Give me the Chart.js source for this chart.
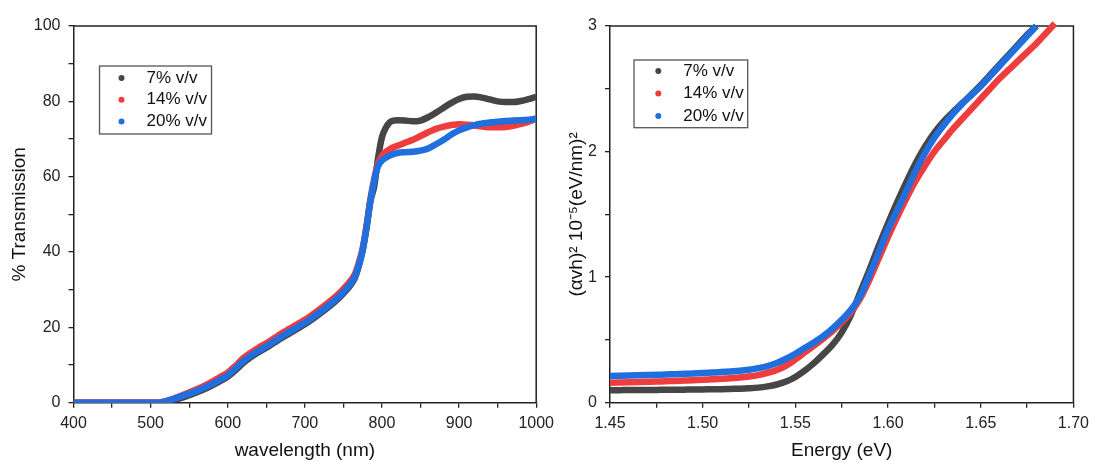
<!DOCTYPE html>
<html>
<head>
<meta charset="utf-8">
<script src="https://cdn.jsdelivr.net/npm/chart.js@4.4.0/dist/chart.umd.min.js"></script>
<style>
  body { margin: 0; background: #fff; }
  #left { position: absolute; left: 0; top: 0; }
  #right { position: absolute; left: 560px; top: 0; }
</style>
</head>
<body>
<canvas id="left" width="560" height="462"></canvas>
<canvas id="right" width="535" height="462"></canvas>
<script>
/* datos del grafico de transmision */
const wavelength = [400,410,420,430,440,450,460,470,480,490,500,510,520,530,540,550,560,570,580,590,
    600,610,620,630,640,650,660,670,680,690,700,710,720,730,740,750,760,
    765,770,775,780,785,790,795,800,805,810,815,820,
    830,840,850,860,870,880,890,900,910,920,930,940,950,960,970,980,990,1000]

const trans7 = [0,0,0,0,0,0,0,0,0,0,0,0,0.2,0.7,1.3,2.0,2.8,3.6,4.6,5.7,
    6.9,8.6,10.5,12.1,13.4,14.6,15.9,17.2,18.4,19.6,20.8,22.2,23.7,25.3,27.0,29.0,31.4,
    33.2,36.3,40.5,46.5,53.5,57.5,65.0,70.5,73.0,74.4,74.9,75.0,
    74.9,74.7,74.9,75.8,77.0,78.3,79.6,80.6,81.2,81.3,81.0,80.5,80.0,79.8,79.8,80.1,80.6,81.2]

const trans14 = [0,0,0,0,0,0,0,0,0,0,0,0,0.4,1.1,1.9,2.7,3.6,4.5,5.6,6.8,
    8.0,9.8,11.8,13.3,14.6,15.8,17.1,18.4,19.6,20.8,22.0,23.4,24.9,26.5,28.2,30.2,32.6,
    34.2,37.2,41.0,47.0,54.0,59.5,63.5,65.5,66.6,67.3,67.8,68.2,
    69.0,69.8,70.8,71.8,72.7,73.3,73.7,73.9,73.8,73.6,73.3,73.1,73.1,73.2,73.5,74.0,74.6,75.5]

const trans20 = [0,0,0,0,0,0,0,0,0,0,0,0,0.4,1.0,1.7,2.4,3.2,4.0,5.0,6.1,
    7.3,9.1,11.0,12.5,13.8,15.0,16.3,17.6,18.8,20.0,21.2,22.6,24.1,25.7,27.4,29.4,31.8,
    33.6,36.5,40.5,46.5,53.5,59.0,62.8,64.3,65.0,65.6,66.0,66.3,
    66.5,66.6,66.9,67.5,68.6,69.8,71.2,72.3,73.1,73.7,74.1,74.4,74.6,74.8,74.9,75.0,75.1,75.3]

/* datos del grafico de energia */
const energy = [1.450,1.455,1.460,1.465,1.470,1.475,1.480,1.485,1.490,1.495,
    1.500,1.505,1.510,1.515,1.520,1.525,1.530,1.535,1.540,1.545,
    1.550,1.555,1.560,1.565,1.570,1.575,1.580,1.585,1.590,1.595,
    1.600,1.605,1.610,1.615,1.620,1.625,1.630,1.635,1.640,1.645,
    1.650,1.655,1.660,1.665,1.670,1.675,1.680,1.685,1.690]

const tauc7 = [0.100,0.100,0.101,0.101,0.102,0.102,0.103,0.103,0.104,0.105,
    0.106,0.107,0.108,0.110,0.112,0.115,0.120,0.130,0.145,0.168,
    0.205,0.255,0.315,0.385,0.46,0.56,0.70,0.88,1.06,1.25,
    1.43,1.60,1.76,1.91,2.04,2.15,2.24,2.315,2.385,2.455,
    2.53,2.61,2.69,2.77,2.85,2.93,3.00]

const tauc14 = [0.158,0.160,0.162,0.164,0.166,0.168,0.171,0.173,0.176,0.179,
    0.182,0.186,0.190,0.195,0.200,0.208,0.220,0.237,0.260,0.295,
    0.345,0.400,0.455,0.51,0.57,0.64,0.72,0.83,0.98,1.15,
    1.32,1.48,1.63,1.77,1.89,2.00,2.09,2.18,2.26,2.34,
    2.42,2.50,2.58,2.65,2.72,2.79,2.86,2.94,3.02]

const tauc20 = [0.212,0.214,0.216,0.218,0.220,0.222,0.225,0.227,0.230,0.233,
    0.236,0.240,0.244,0.249,0.255,0.262,0.275,0.292,0.316,0.350,
    0.390,0.435,0.48,0.53,0.59,0.66,0.74,0.85,1.02,1.20,
    1.38,1.535,1.69,1.85,1.99,2.11,2.21,2.30,2.38,2.45,
    2.52,2.60,2.68,2.76,2.84,2.92,3.00]

const seriesLabels = ["7% v/v", "14% v/v", "20% v/v"]
const seriesColors = ["#464646", "#ef3d3d", "#1f6fdf"]

const xTicksLeft = [400, 500, 600, 700, 800, 900, 1000]
const yTicksLeft = [0, 20, 40, 60, 80, 100]
const xTicksRight = ["1.45", "1.50", "1.55", "1.60", "1.65", "1.70"]
const yTicksRight = [0, 1, 2, 3]

Chart.defaults.font.family = "'Liberation Sans', Arial, sans-serif"
Chart.defaults.color = "#222"

const pairs = (xs, ys) => ys.map((y, i) => ({ x: xs[i], y: y }))

/* marco arriba y derecha */
const framePlugin = {
    id: "frame",
    beforeDatasetsDraw(chart) {
        const a = chart.chartArea
        const ctx = chart.ctx
        ctx.save()
        ctx.strokeStyle = "#222"
        ctx.lineWidth = 1.5
        ctx.beginPath()
        ctx.moveTo(a.left, a.top)
        ctx.lineTo(a.right, a.top)
        ctx.lineTo(a.right, a.bottom)
        ctx.stroke()
        ctx.restore()
    }
}

/* leyenda con caja */
const boxLegend = {
    id: "boxLegend",
    afterDraw(chart, args, opts) {
        const ctx = chart.ctx
        ctx.save()
        ctx.fillStyle = "#fff"
        ctx.fillRect(opts.x, opts.y, opts.w, opts.h)
        ctx.strokeStyle = "#555"
        ctx.lineWidth = 1.3
        ctx.strokeRect(opts.x, opts.y, opts.w, opts.h)
        ctx.font = "17px 'Liberation Sans', Arial, sans-serif"
        ctx.textBaseline = "middle"
        seriesLabels.forEach((lab, i) => {
            const cy = opts.y + opts.row0 + i * opts.gap
            ctx.fillStyle = seriesColors[i]
            ctx.beginPath()
            ctx.arc(opts.x + opts.dot, cy, 3, 0, Math.PI * 2)
            ctx.fill()
            ctx.fillStyle = "#111"
            ctx.fillText(lab, opts.x + opts.text, cy)
        })
        ctx.restore()
    }
}

const makeDataset = (i, data, width) => ({
    label: seriesLabels[i],
    data: data,
    borderColor: seriesColors[i],
    backgroundColor: seriesColors[i],
    borderWidth: width,
    pointRadius: 0,
    showLine: true,
    cubicInterpolationMode: "monotone",
    order: 3 - i,
})

const axisCommon = {
    grid: { drawOnChartArea: false, tickLength: 5, color: "#222", lineWidth: 1.3 },
    border: { color: "#222", width: 1.5 },
}

/* grafico de transmision */
const leftChart = new Chart(document.querySelector("#left").getContext("2d"), {
    type: "scatter",
    data: {
        datasets: [
            makeDataset(0, pairs(wavelength, trans7), 6.5),
            makeDataset(1, pairs(wavelength, trans14), 6.5),
            makeDataset(2, pairs(wavelength, trans20), 6.5),
        ]
    },
    options: {
        responsive: false,
        animation: false,
        layout: { padding: { top: 26, right: 18, left: 0, bottom: 0 } },
        plugins: {
            legend: { display: false },
            tooltip: { enabled: false },
            boxLegend: { x: 99.5, y: 66, w: 112, h: 68, dot: 22, text: 47, row0: 12, gap: 21.7 },
        },
        scales: {
            x: {
                ...axisCommon,
                type: "linear", min: 400, max: 1000,
                ticks: { stepSize: 50, autoSkip: false, maxRotation: 0, padding: 6, font: { size: 16 },
                    callback: v => xTicksLeft.includes(v) ? String(v) : "" },
                title: { display: true, text: "wavelength (nm)", font: { size: 19 }, color: "#111", padding: 0 },
                afterFit: s => { s.height = 59.3 },
            },
            y: {
                ...axisCommon,
                min: 0, max: 100,
                ticks: { stepSize: 10, autoSkip: false, padding: 8, font: { size: 16 },
                    callback: v => yTicksLeft.includes(v) ? String(v) : "" },
                title: { display: true, text: "% Transmission", font: { size: 19 }, color: "#111", padding: { top: 8, bottom: 0 } },
                afterFit: s => { s.width = 73.5 },
            },
        },
    },
    plugins: [framePlugin, boxLegend],
})

/* grafico de energia */
const rightChart = new Chart(document.querySelector("#right").getContext("2d"), {
    type: "scatter",
    data: {
        datasets: [
            { ...makeDataset(0, pairs(energy, tauc7), 6.5), clip: 8 },
            { ...makeDataset(1, pairs(energy, tauc14), 6.5), clip: 8 },
            { ...makeDataset(2, pairs(energy, tauc20), 6.5), clip: 8 },
        ]
    },
    options: {
        responsive: false,
        animation: false,
        layout: { padding: { top: 26, right: 17.3, left: 0, bottom: 0 } },
        plugins: {
            legend: { display: false },
            tooltip: { enabled: false },
            boxLegend: { x: 74, y: 60, w: 113.7, h: 67.7, dot: 24.3, text: 49.3, row0: 11, gap: 22.5 },
        },
        scales: {
            x: {
                ...axisCommon,
                type: "linear", min: 1.45, max: 1.70,
                ticks: { stepSize: 0.025, autoSkip: false, maxRotation: 0, padding: 6, font: { size: 16 },
                    callback: v => { const t = v.toFixed(2); return xTicksRight.includes(t) && Math.abs(v - Number(t)) < 1e-6 ? t : "" } },
                title: { display: true, text: "Energy (eV)", font: { size: 19 }, color: "#111", padding: 0 },
                afterFit: s => { s.height = 59.3 },
            },
            y: {
                ...axisCommon,
                min: 0, max: 3,
                ticks: { stepSize: 0.5, autoSkip: false, padding: 8, font: { size: 16 },
                    callback: v => yTicksRight.includes(v) ? String(v) : "" },
                title: { display: true, text: "(αvh)² 10⁻⁵(eV/nm)²", font: { size: 19 }, color: "#111", padding: { top: 5, bottom: 0 } },
                afterFit: s => { s.width = 50 },
            },
        },
    },
    plugins: [framePlugin, boxLegend],
})
</script>
</body>
</html>
